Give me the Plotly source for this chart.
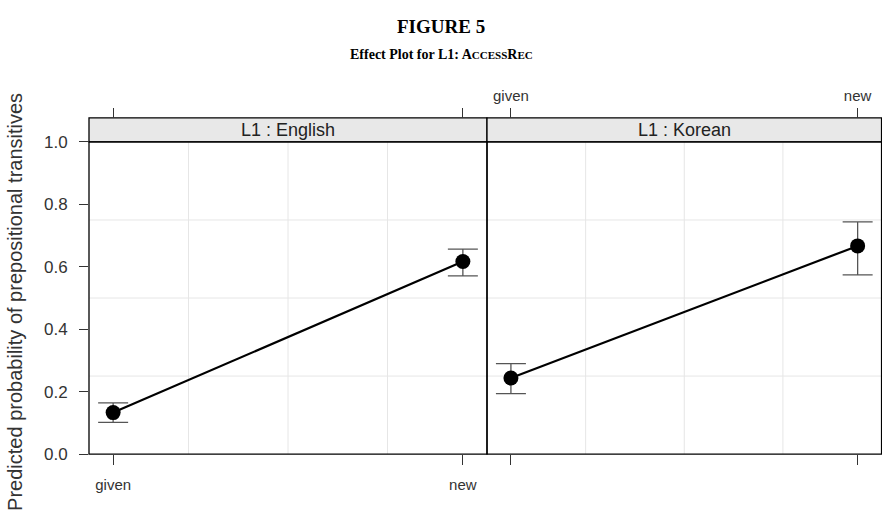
import plotly.graph_objects as go
from plotly.subplots import make_subplots

# Effect estimates for L1 by accessibility of the recipient
levels = ["given", "new"]
panels = ["English", "Korean"]
fit = {"English": [0.133, 0.617], "Korean": [0.244, 0.667]}
upper = {"English": [0.164, 0.657], "Korean": [0.290, 0.744]}
lower = {"English": [0.102, 0.571], "Korean": [0.194, 0.574]}
y_ticks = [0.0, 0.2, 0.4, 0.6, 0.8, 1.0]
y_grid = [0.25, 0.5, 0.75]

W, H = 882, 520
SANS = "Liberation Sans, Arial, sans-serif"
SERIF = "Liberation Serif, Times New Roman, serif"

# pixel geometry of the panel area
left_px, mid_px, right_px = 89, 487, 882
top_px, bot_px = 138, 462
strip_top_px = 113


def px_x(v):
    return v / W


def px_y(v):
    return 1 - v / H


fig = make_subplots(rows=1, cols=2, shared_yaxes=True, horizontal_spacing=0)

xpos = [0, 1]
for i, name in enumerate(panels):
    f = fit[name]
    ep = [u - m for u, m in zip(upper[name], f)]
    em = [m - l for l, m in zip(lower[name], f)]
    fig.add_trace(
        go.Scatter(
            x=xpos, y=f, mode="lines+markers",
            line=dict(color="black", width=2.2),
            marker=dict(color="black", size=15),
            error_y=dict(type="data", array=ep, arrayminus=em,
                         color="#555555", thickness=1.3, width=15),
            showlegend=False, hoverinfo="skip",
        ),
        row=1, col=i + 1,
    )

xrange = [-0.069, 1.069]
dom_left = [px_x(left_px), px_x(mid_px)]
dom_right = [px_x(mid_px), px_x(right_px) - 0.0005]
ydom = [px_y(bot_px), px_y(top_px)]

common_x = dict(range=xrange, tickmode="array", tickvals=xpos, ticktext=levels,
                ticks="outside", ticklen=10, tickcolor="#333333", tickwidth=1.3,
                showgrid=False, zeroline=False, showline=False,
                tickfont=dict(family=SANS, size=15, color="#333333"), fixedrange=True)

fig.update_layout(
    xaxis=dict(common_x, domain=dom_left, showticklabels=True, ticklabelstandoff=7),
    xaxis2=dict(common_x, domain=dom_right, showticklabels=False),
    # top tick axes sit above the strips
    xaxis3=dict(common_x, domain=dom_left, anchor="free", overlaying="x",
                side="top", position=px_y(strip_top_px), showticklabels=False),
    xaxis4=dict(common_x, domain=dom_right, anchor="free", overlaying="x2",
                side="top", position=px_y(strip_top_px), showticklabels=True,
                ticklabelstandoff=1),
    yaxis=dict(domain=ydom, range=[0, 1], tickmode="array", tickvals=y_ticks,
               ticktext=[f"{v:.1f}" for v in y_ticks], ticks="outside", ticklen=9,
               tickcolor="#333333", tickwidth=1.3, showgrid=False, zeroline=False,
               showline=False, tickfont=dict(family=SANS, size=17, color="#333333"),
               ticklabelstandoff=8, fixedrange=True),
    yaxis2=dict(domain=ydom, range=[0, 1], showticklabels=False, ticks="",
                showgrid=False, zeroline=False, showline=False, fixedrange=True),
)

# invisible traces so the top axes are drawn
fig.add_trace(go.Scatter(x=xpos, y=[None, None], xaxis="x3", yaxis="y",
                         mode="markers", showlegend=False, hoverinfo="skip"))
fig.add_trace(go.Scatter(x=xpos, y=[None, None], xaxis="x4", yaxis="y2",
                         mode="markers", showlegend=False, hoverinfo="skip"))

shapes = []
for xa in ["x", "x2"]:
    ya = "y" if xa == "x" else "y2"
    for g in [0.25, 0.5, 0.75]:
        shapes.append(dict(type="line", xref=f"{xa} domain", yref=f"{ya} domain",
                           x0=g, x1=g, y0=0, y1=1, layer="below",
                           line=dict(color="#E6E6E6", width=1)))
    for g in y_grid:
        shapes.append(dict(type="line", xref=f"{xa} domain", yref=ya,
                           x0=0, x1=1, y0=g, y1=g, layer="below",
                           line=dict(color="#E6E6E6", width=1)))
    # panel border
    shapes.append(dict(type="rect", xref=f"{xa} domain", yref=f"{ya} domain",
                       x0=0, x1=1, y0=0, y1=1, layer="above",
                       line=dict(color="black", width=1.3)))
    # strip
    shapes.append(dict(type="rect", xref=f"{xa} domain", yref="paper",
                       x0=0, x1=1, y0=px_y(top_px), y1=px_y(strip_top_px),
                       fillcolor="#E8E8E8", layer="below",
                       line=dict(color="black", width=1.3)))

annotations = []
for i, name in enumerate(panels):
    xa = "x" if i == 0 else "x2"
    annotations.append(dict(text=f"L1 : {name}", xref=f"{xa} domain", yref="paper",
                            x=0.5, y=px_y((top_px + strip_top_px) / 2), showarrow=False,
                            xanchor="center", yanchor="middle",
                            font=dict(family=SANS, size=18, color="#222222")))

annotations += [
    dict(text="<b>FIGURE 5</b>", xref="paper", yref="paper", x=0.5, y=px_y(18),
         showarrow=False, xanchor="center", yanchor="middle",
         font=dict(family=SERIF, size=19, color="black")),
    dict(text="<b>Effect Plot for L1: A<span style='font-size:11px'>CCESS</span>"
              "R<span style='font-size:11px'>EC</span></b>",
         xref="paper", yref="paper", x=0.5, y=px_y(47), showarrow=False,
         xanchor="center", yanchor="middle",
         font=dict(family=SERIF, size=14, color="black")),
    dict(text="Predicted probability of prepositional transitives", xref="paper",
         yref="paper", x=px_x(15), y=px_y(304), textangle=-90,
         showarrow=False, xanchor="center", yanchor="middle",
         font=dict(family=SANS, size=20, color="#333333")),
]

fig.update_layout(
    width=W, height=H, margin=dict(l=0, r=0, t=0, b=0),
    paper_bgcolor="white", plot_bgcolor="white",
    shapes=shapes, annotations=annotations,
)

fig.write_html("out.html")
